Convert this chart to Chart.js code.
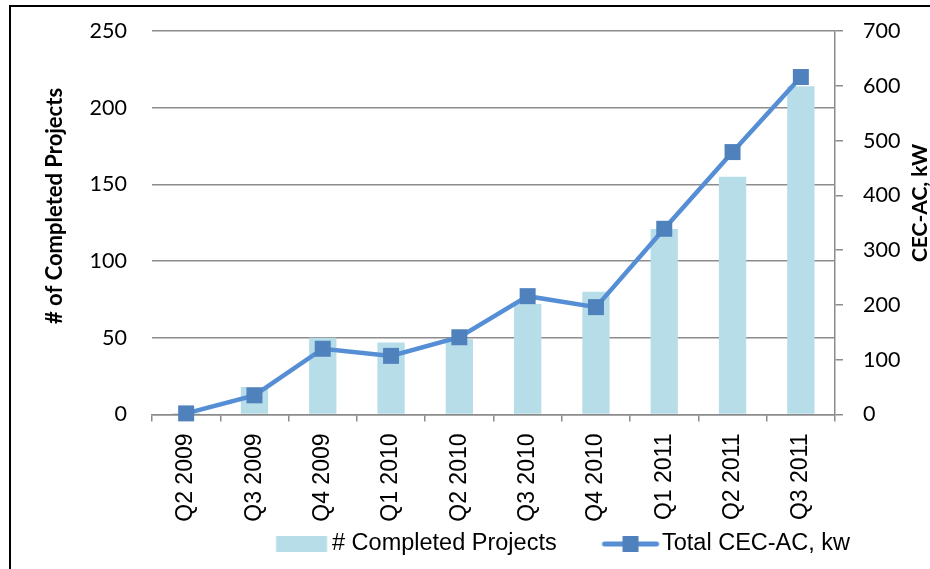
<!DOCTYPE html>
<html>
<head>
<meta charset="utf-8">
<script src="https://cdn.jsdelivr.net/npm/chart.js@4.4.1/dist/chart.umd.min.js"></script>
<style>
  html, body { margin: 0; padding: 0; background: #ffffff; overflow: hidden; width: 930px; height: 569px; }
  #frame { position: absolute; left: 9px; top: 5px; width: 2000px; height: 2000px;
           border-left: 2px solid #000; border-top: 2px solid #000; }
  #wrap { position: absolute; left: 0; top: 0; width: 930px; height: 569px; }
</style>
</head>
<body>
<div id="frame"></div>
<div id="wrap"><canvas id="chart" width="930" height="569"></canvas></div>
<script>
// ---- data ----
const quarters = ['Q2 2009', 'Q3 2009', 'Q4 2009', 'Q1 2010', 'Q2 2010',
                  'Q3 2010', 'Q4 2010', 'Q1 2011', 'Q2 2011', 'Q3 2011'];
const completedProjects = [1, 18, 50, 47, 49, 72, 80, 121, 155, 214];
const totalCecAcKw = [2, 35, 120, 107, 141, 216, 196, 339, 479, 616];
const seriesNames = ['# Completed Projects', 'Total CEC-AC, kw'];
const leftAxisTitle = '# of Completed Projects';
const rightAxisTitle = 'CEC-AC, kW';
const leftTicks = { min: 0, max: 250, step: 50 };
const rightTicks = { min: 0, max: 700, step: 100 };

// ---- styles ----
const BAR_COLOR = '#b7dde8';
const LINE_COLOR = '#558ed5';
const MARKER_COLOR = '#4f81bd';
const GRID_COLOR = '#8c8c8c';
const TICK_FONT = "Lato, 'Open Sans', sans-serif";
const ARIAL = "'Liberation Sans', Arial, sans-serif";
const LEGEND_SIZE = 23.5;

Chart.defaults.color = '#000';

// legend geometry
const mctx = document.createElement('canvas').getContext('2d');
mctx.font = LEGEND_SIZE + "px 'Liberation Sans'";
const tw1 = mctx.measureText(seriesNames[0]).width;
const HALF = LEGEND_SIZE / 2;
const B = Math.max(60, 662 - 332 - tw1 - 4 - HALF);

function legendImage(relL, relR, h, draw) {
  const half = Math.ceil(Math.max(Math.abs(relL), Math.abs(relR))) + 2;
  const cv = document.createElement('canvas');
  cv.width = half * 2; cv.height = h;
  const g = cv.getContext('2d');
  draw(g, half + relL, half + relR, h);
  return cv;
}
// box start for item 1 so that its text begins at x=332
const box1 = 332 - HALF - B;
const cx1 = box1 + B / 2;
const box2 = box1 + B + HALF + tw1 + 4;
const cx2 = box2 + B / 2;
const swatchImg = legendImage(276 - cx1, 327 - cx1, 16, (g, l, r, h) => {
  g.fillStyle = BAR_COLOR; g.fillRect(l, 0, r - l, h);
});
const lineImg = legendImage(602 - cx2, 659 - cx2, 18, (g, l, r, h) => {
  g.strokeStyle = LINE_COLOR; g.lineWidth = 5; g.lineCap = 'round';
  g.beginPath(); g.moveTo(l + 2.5, h / 2); g.lineTo(r - 2.5, h / 2); g.stroke();
  g.fillStyle = MARKER_COLOR; const c = (l + r) / 2;
  g.fillRect(c - 8, h / 2 - 8, 16, 16);
});

const tweaks = {
  id: 'tweaks',
  afterLayout(chart) {
    const lg = chart.legend;
    if (lg) { lg.left = box1 - 4; lg.right = chart.width; lg.top = 544 - 4 - HALF; }
  },
  afterDraw(chart) {
    const ctx = chart.ctx;
    ctx.save();
    ctx.fillStyle = '#000';
    ctx.textAlign = 'center';
    ctx.textBaseline = 'alphabetic';
    ctx.font = "bold 22px Lato, 'Open Sans', sans-serif";
    ctx.translate(62, 206);
    ctx.rotate(-Math.PI / 2);
    ctx.fillText(leftAxisTitle, 0, 0);
    ctx.restore();
    ctx.save();
    ctx.fillStyle = '#000';
    ctx.textAlign = 'center';
    ctx.textBaseline = 'alphabetic';
    ctx.font = "bold 21px Lato, 'Open Sans', sans-serif";
    ctx.translate(927, 203);
    ctx.rotate(-Math.PI / 2);
    ctx.fillText(rightAxisTitle, 0, 0);
    ctx.restore();
  }
};

new Chart(document.getElementById('chart'), {
  data: {
    labels: quarters,
    datasets: [
      {
        type: 'bar',
        label: seriesNames[0],
        data: completedProjects,
        backgroundColor: BAR_COLOR,
        borderWidth: 0,
        yAxisID: 'y',
        barPercentage: 0.4,
        categoryPercentage: 1,
        order: 1
      },
      {
        type: 'line',
        label: seriesNames[1],
        data: totalCecAcKw,
        borderColor: LINE_COLOR,
        borderWidth: 4.5,
        pointStyle: 'rect',
        pointRadius: 11.3,
        pointHoverRadius: 11.3,
        pointBackgroundColor: MARKER_COLOR,
        pointBorderColor: MARKER_COLOR,
        pointBorderWidth: 0,
        tension: 0,
        yAxisID: 'y1',
        clip: false,
        order: 0
      }
    ]
  },
  options: {
    responsive: false,
    animation: false,
    events: [],
    layout: { padding: { top: 31, left: 0, right: 0, bottom: 0 } },
    plugins: {
      title: { display: false },
      tooltip: { enabled: false },
      legend: {
        display: true,
        position: 'bottom',
        align: 'start',
        labels: {
          usePointStyle: true,
          pointStyleWidth: B,
          padding: 4,
          color: '#000',
          font: { family: ARIAL, size: LEGEND_SIZE },
          generateLabels(chart) {
            const items = Chart.defaults.plugins.legend.labels.generateLabels(chart);
            items.forEach(it => { it.pointStyle = it.datasetIndex === 0 ? swatchImg : lineImg; });
            items.sort((a, b) => a.datasetIndex - b.datasetIndex);
            return items;
          }
        }
      }
    },
    scales: {
      x: {
        type: 'category',
        position: 'bottom',
        offset: true,
        grid: { display: true, drawOnChartArea: false, drawTicks: true, tickLength: 7,
                color: GRID_COLOR, lineWidth: 1.5, offset: true },
        border: { display: true, color: GRID_COLOR, width: 1.5 },
        ticks: { font: { family: ARIAL, size: 23 }, color: '#000', minRotation: 90, maxRotation: 90,
                 padding: 12, autoSkip: false },
        afterFit(s) { s.height = 117; }
      },
      y: {
        position: 'left',
        min: leftTicks.min, max: leftTicks.max,
        grid: { color: GRID_COLOR, lineWidth: 1.5, drawTicks: true, tickLength: 10,
                tickColor: 'rgba(0,0,0,0)' },
        border: { display: false },
        ticks: { stepSize: leftTicks.step, font: { family: TICK_FONT, size: 21.5, lineHeight: 1 },
                 color: '#000', padding: 15 },
        afterFit(s) { s.width = 152; }
      },
      y1: {
        position: 'right',
        min: rightTicks.min, max: rightTicks.max,
        grid: { drawOnChartArea: false, drawTicks: true, tickLength: 8, color: GRID_COLOR, lineWidth: 1.5 },
        border: { display: true, color: GRID_COLOR, width: 1.5 },
        ticks: { stepSize: rightTicks.step, font: { family: TICK_FONT, size: 21.5, lineHeight: 1 },
                 color: '#000', padding: 20 },
        afterFit(s) { s.width = 95; }
      }
    }
  },
  plugins: [tweaks]
});
</script>
</body>
</html>
